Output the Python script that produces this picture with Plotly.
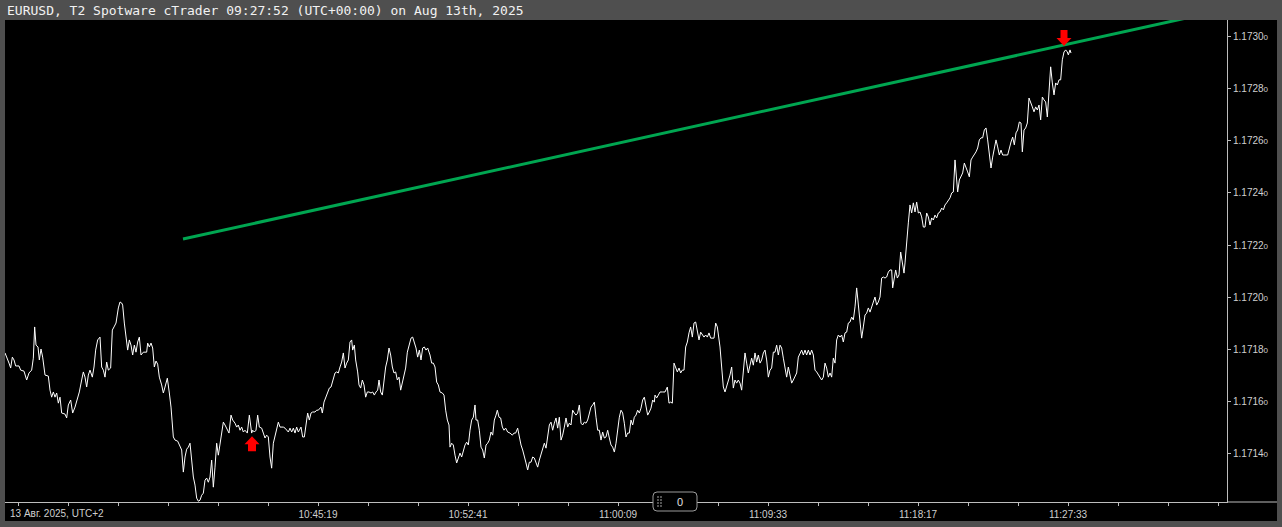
import plotly.graph_objects as go

# ---------------- DATA ----------------
# tick index (x) and bid price (y) of the EURUSD tick chart
tick_idx = [
    0, 5, 12, 17, 22, 27, 32, 42, 47, 57, 65, 72, 80, 85, 89, 93, 99, 103, 108, 113,
    120, 130, 135, 140, 145, 150, 155, 160, 165, 170, 180, 185, 190, 197, 203, 210, 217, 223, 230, 235,
    240, 245, 250, 255, 262, 267, 272, 278, 285, 290, 295, 300, 305, 310, 317, 322, 327, 333, 340, 345,
    350, 353, 358, 363, 368, 373, 378, 383, 388, 393, 398, 403, 408, 415, 425, 428, 433, 438, 443, 448,
    453, 458, 463, 470, 475, 480, 487, 493, 498, 505, 510, 518, 525, 530, 535, 540, 545, 550, 555, 560,
    565, 570, 575, 580, 585, 590, 595, 600, 605, 610, 615, 620, 625, 630, 635,
    640, 645, 650, 655, 660, 667, 672, 678, 683, 690, 695, 700, 705, 710, 715, 720, 727, 733, 737, 740,
    743, 748, 753, 758, 763, 770, 775, 780, 785, 790, 795, 800, 805, 810, 815, 820, 825, 835, 840, 845,
    850, 855, 860, 865, 870, 875, 880, 888, 893, 898, 903, 908, 913, 918, 923, 930, 935, 940, 948, 952,
    957, 962, 968, 973, 978, 985, 990, 995, 1000, 1005, 1010, 1015, 1020, 1025, 1030, 1035, 1040, 1043, 1048, 1052,
    1058, 1062, 1067, 1072, 1077, 1082, 1087, 1092, 1098, 1103, 1108, 1113, 1118, 1122, 1127, 1132, 1137, 1142, 1147, 1152,
    1157, 1162, 1167, 1172, 1177, 1182, 1187, 1192, 1197, 1202, 1207, 1212, 1218, 1223, 1228, 1233, 1238, 1243, 1248, 1253,
    1258, 1263, 1268, 1275, 1280, 1285,
    1290, 1295, 1300, 1305, 1312, 1317, 1322, 1327, 1332, 1335, 1340, 1345, 1350, 1355, 1360, 1365, 1370, 1375, 1380, 1385,
    1390, 1395, 1400, 1405, 1410, 1413, 1418, 1423, 1428, 1433, 1438, 1443, 1448, 1453, 1458, 1463, 1468, 1473, 1477, 1482,
    1487, 1492, 1497, 1502, 1508, 1515, 1522, 1527, 1532, 1538, 1543, 1548, 1553, 1558, 1563, 1568, 1573, 1578, 1583, 1588,
    1593, 1598, 1603, 1608, 1613, 1618, 1623, 1628, 1633, 1638, 1643, 1648, 1653, 1658, 1663, 1668, 1673, 1678, 1683, 1688,
    1693, 1698, 1703, 1708, 1713, 1718, 1723, 1728, 1733, 1738, 1743, 1748, 1753, 1758, 1763, 1768, 1773, 1778, 1783, 1788,
    1793, 1798, 1803, 1808, 1813, 1818, 1823, 1828, 1833, 1838, 1843, 1848, 1853, 1858, 1863, 1868, 1873, 1878, 1883, 1888,
    1893, 1898, 1903, 1908, 1913, 1918, 1923, 1928, 1933, 1938, 1943, 1948,
    1950, 1955, 1960, 1965, 1972, 1980, 1987, 1992, 1997, 2002, 2007, 2012, 2017, 2022, 2027, 2032, 2037, 2042, 2047, 2052,
    2057, 2062, 2067, 2072, 2077, 2082, 2087, 2092, 2097, 2102, 2107, 2112, 2117, 2127, 2132, 2137, 2140, 2145, 2150, 2155,
    2160, 2165, 2170, 2175, 2180, 2185, 2190, 2195, 2200, 2205, 2210, 2215, 2220, 2225, 2230, 2235, 2240, 2245, 2250, 2255,
    2260, 2265, 2270, 2275, 2280, 2285, 2290, 2295, 2300, 2305, 2310, 2315, 2320, 2325, 2330, 2335, 2340, 2345, 2350, 2355,
    2360, 2365, 2370, 2375, 2380, 2385, 2390, 2395, 2400, 2405, 2410, 2415, 2420, 2425, 2430, 2435, 2440, 2445, 2450, 2455,
    2460, 2465, 2470, 2475, 2480, 2485, 2490, 2495, 2500, 2505, 2510, 2515, 2520, 2525, 2530, 2535, 2540, 2545, 2550, 2555,
    2560, 2565, 2570, 2575, 2580, 2585, 2590, 2595, 2600, 2605,
    2610, 2615, 2620, 2625, 2630, 2635, 2640, 2645, 2650, 2655, 2660, 2663, 2668, 2672, 2677, 2682, 2687, 2692, 2697, 2700,
    2705, 2710, 2715, 2720, 2725, 2730, 2735, 2740, 2745, 2750, 2755, 2760, 2765, 2770, 2775, 2780, 2785, 2790, 2795, 2800,
    2805, 2810, 2815, 2820, 2825, 2830, 2835, 2840, 2845, 2850, 2853, 2858, 2863, 2868, 2873, 2878, 2883, 2888, 2893, 2898,
    2903, 2908, 2913, 2918, 2923, 2928, 2933, 2938, 2943, 2948, 2953, 2958, 2963, 2968, 2973, 2978, 2983, 2988, 2993, 3008,
    3013, 3018, 3023, 3028, 3033, 3038, 3043, 3048, 3052, 3057, 3062, 3067, 3072, 3077, 3082, 3087, 3092, 3097, 3102, 3107,
    3112, 3117, 3122, 3127, 3132, 3137, 3142, 3147, 3152, 3157, 3162, 3167, 3172, 3177, 3182, 3187, 3190, 3195, 3198,
]

price = [
    1.171785, 1.171765, 1.171746, 1.171727, 1.171769, 1.171758, 1.171735, 1.171735, 1.171719, 1.171715,
    1.171681, 1.171708, 1.171719, 1.171765, 1.171885, 1.171815, 1.171808, 1.171758, 1.171800, 1.171769,
    1.171700, 1.171696, 1.171642, 1.171615, 1.171635, 1.171615, 1.171631, 1.171592, 1.171615, 1.171554,
    1.171550, 1.171535, 1.171585, 1.171604, 1.171554, 1.171577, 1.171604, 1.171635, 1.171681, 1.171712,
    1.171692, 1.171654, 1.171700, 1.171719, 1.171692, 1.171731, 1.171796, 1.171835, 1.171846, 1.171731,
    1.171719, 1.171692, 1.171750, 1.171719, 1.171727, 1.171873, 1.171885, 1.171900, 1.171958, 1.171981,
    1.171977, 1.171969, 1.171900, 1.171835, 1.171796, 1.171835, 1.171815, 1.171777, 1.171815, 1.171788,
    1.171827, 1.171846, 1.171777, 1.171788, 1.171788, 1.171823, 1.171808, 1.171823, 1.171804, 1.171731,
    1.171754, 1.171742, 1.171692, 1.171662, 1.171631, 1.171654, 1.171688, 1.171631, 1.171577, 1.171462,
    1.171450, 1.171446, 1.171423, 1.171412, 1.171327, 1.171385, 1.171415, 1.171423, 1.171438, 1.171362,
    1.171308, 1.171277, 1.171227, 1.171215, 1.171219, 1.171238, 1.171246, 1.171296, 1.171304, 1.171288,
    1.171308, 1.171373, 1.171269, 1.171346, 1.171438,
    1.171392, 1.171438, 1.171488, 1.171519, 1.171508, 1.171488, 1.171477, 1.171546, 1.171527, 1.171515,
    1.171500, 1.171508, 1.171488, 1.171500, 1.171481, 1.171488, 1.171477, 1.171546, 1.171488, 1.171477,
    1.171488, 1.171481, 1.171488, 1.171546, 1.171500, 1.171496, 1.171477, 1.171458, 1.171469, 1.171462,
    1.171385, 1.171342, 1.171438, 1.171462, 1.171488, 1.171519, 1.171500, 1.171500, 1.171496, 1.171488,
    1.171481, 1.171496, 1.171481, 1.171496, 1.171477, 1.171500, 1.171481, 1.171500, 1.171462, 1.171462,
    1.171519, 1.171554, 1.171527, 1.171554, 1.171558, 1.171558, 1.171565, 1.171565, 1.171577, 1.171554,
    1.171596, 1.171612, 1.171635, 1.171650, 1.171654, 1.171681, 1.171708, 1.171712, 1.171708, 1.171731,
    1.171750, 1.171785, 1.171727, 1.171746, 1.171758, 1.171827, 1.171835, 1.171796, 1.171815, 1.171758,
    1.171712, 1.171662, 1.171650, 1.171681, 1.171662, 1.171615, 1.171635, 1.171635, 1.171631, 1.171635,
    1.171623, 1.171635, 1.171642, 1.171681, 1.171635, 1.171623, 1.171673, 1.171731, 1.171758, 1.171804,
    1.171777, 1.171731, 1.171708, 1.171712, 1.171681, 1.171692, 1.171642, 1.171673, 1.171692, 1.171727,
    1.171788, 1.171815, 1.171842, 1.171846, 1.171823, 1.171804, 1.171769, 1.171796, 1.171758, 1.171804,
    1.171808, 1.171796, 1.171804, 1.171777, 1.171746, 1.171746,
    1.171731, 1.171673, 1.171662, 1.171635, 1.171631, 1.171623, 1.171565, 1.171527, 1.171508, 1.171423,
    1.171438, 1.171431, 1.171392, 1.171362, 1.171381, 1.171400, 1.171385, 1.171412, 1.171431, 1.171442,
    1.171431, 1.171488, 1.171527, 1.171538, 1.171585, 1.171527, 1.171527, 1.171488, 1.171423, 1.171412,
    1.171381, 1.171431, 1.171438, 1.171450, 1.171481, 1.171469, 1.171527, 1.171546, 1.171565, 1.171538,
    1.171535, 1.171500, 1.171488, 1.171496, 1.171481, 1.171477, 1.171469, 1.171477, 1.171477, 1.171496,
    1.171462, 1.171431, 1.171412, 1.171381, 1.171362, 1.171335, 1.171365, 1.171365, 1.171385, 1.171381,
    1.171362, 1.171346, 1.171373, 1.171392, 1.171412, 1.171438, 1.171419, 1.171462, 1.171508, 1.171519,
    1.171488, 1.171515, 1.171535, 1.171496, 1.171538, 1.171450, 1.171469, 1.171500, 1.171535, 1.171500,
    1.171515, 1.171508, 1.171565, 1.171554, 1.171546, 1.171554, 1.171585, 1.171515, 1.171508, 1.171519,
    1.171515, 1.171527, 1.171558, 1.171577, 1.171585, 1.171596, 1.171538, 1.171488, 1.171488, 1.171450,
    1.171481, 1.171458, 1.171462, 1.171488, 1.171458, 1.171431, 1.171423, 1.171404, 1.171438, 1.171500,
    1.171538, 1.171565, 1.171554, 1.171515, 1.171462, 1.171477, 1.171477, 1.171527, 1.171508, 1.171538,
    1.171546, 1.171565, 1.171554, 1.171573, 1.171604, 1.171615, 1.171577, 1.171546, 1.171558, 1.171573,
    1.171604, 1.171596,
    1.171623, 1.171612, 1.171623, 1.171635, 1.171635, 1.171635, 1.171654, 1.171592, 1.171596, 1.171592,
    1.171746, 1.171731, 1.171712, 1.171727, 1.171708, 1.171719, 1.171719, 1.171808, 1.171827, 1.171862,
    1.171885, 1.171846, 1.171900, 1.171904, 1.171865, 1.171835, 1.171865, 1.171854, 1.171846, 1.171854,
    1.171846, 1.171862, 1.171842, 1.171842, 1.171900, 1.171885, 1.171862, 1.171808, 1.171731, 1.171654,
    1.171635, 1.171654, 1.171673, 1.171700, 1.171731, 1.171650, 1.171681, 1.171669, 1.171681, 1.171669,
    1.171642, 1.171727, 1.171785, 1.171746, 1.171708, 1.171738, 1.171765, 1.171738, 1.171785, 1.171750,
    1.171777, 1.171746, 1.171758, 1.171785, 1.171796, 1.171758, 1.171692, 1.171719, 1.171727, 1.171788,
    1.171788, 1.171815, 1.171777, 1.171815, 1.171804, 1.171765, 1.171727, 1.171692, 1.171731, 1.171692,
    1.171669, 1.171681, 1.171692, 1.171708, 1.171769, 1.171785, 1.171796, 1.171777, 1.171796, 1.171777,
    1.171796, 1.171777, 1.171796, 1.171777, 1.171719, 1.171712, 1.171700, 1.171692, 1.171681, 1.171692,
    1.171746, 1.171727, 1.171692, 1.171708, 1.171692, 1.171765, 1.171746, 1.171835, 1.171854, 1.171846,
    1.171854, 1.171827, 1.171862, 1.171865, 1.171900, 1.171904, 1.171923, 1.171912, 1.171962, 1.172035,
    1.171962, 1.171912, 1.171842, 1.171885, 1.171931, 1.171938, 1.171958, 1.171942, 1.171962, 1.171981,
    1.172000, 1.171969, 1.171981, 1.172000, 1.172073, 1.172077, 1.172073, 1.172077, 1.172096, 1.172104,
    1.172104, 1.172035, 1.172077, 1.172104, 1.172073, 1.172085, 1.172173, 1.172131, 1.172092, 1.172131,
    1.172227, 1.172285, 1.172354, 1.172323, 1.172362, 1.172327, 1.172365, 1.172323, 1.172327, 1.172308,
    1.172269, 1.172269, 1.172323, 1.172308, 1.172277, 1.172304, 1.172296, 1.172315, 1.172304, 1.172323,
    1.172327, 1.172342, 1.172335, 1.172354, 1.172362, 1.172373, 1.172381, 1.172400, 1.172404, 1.172527,
    1.172488, 1.172404, 1.172450, 1.172462, 1.172477, 1.172515, 1.172500, 1.172481, 1.172462, 1.172527,
    1.172538, 1.172546, 1.172558, 1.172573, 1.172604, 1.172612, 1.172612, 1.172642, 1.172650, 1.172604,
    1.172538, 1.172496, 1.172538, 1.172573, 1.172604, 1.172577, 1.172546, 1.172565, 1.172546, 1.172546,
    1.172577, 1.172596, 1.172615, 1.172585, 1.172631, 1.172642, 1.172673, 1.172669, 1.172558, 1.172642,
    1.172650, 1.172669, 1.172765, 1.172750, 1.172731, 1.172712, 1.172731, 1.172719, 1.172738, 1.172681,
    1.172769, 1.172758, 1.172750, 1.172692, 1.172796, 1.172885, 1.172823, 1.172777, 1.172823, 1.172815,
    1.172835, 1.172835, 1.172912, 1.172942, 1.172950, 1.172942, 1.172931, 1.172950, 1.172938,
]
assert len(tick_idx) == len(price), (len(tick_idx), len(price))

# trend line (two anchor points)
trend_idx = [534, 3666]
trend_price = [1.172223, 1.173107]

# signal arrows
signal_idx = [741, 3177]
signal_price = [1.171465, 1.172965]
signal_dir = ["up", "down"]

# axes
y_tick_vals = [1.17140, 1.17160, 1.17180, 1.17200, 1.17220, 1.17240, 1.17260, 1.17280, 1.17300]
x_label_idx = [939, 1389, 1839, 2289, 2739, 3189]
x_labels = ["10:45:19", "10:52:41", "11:00:09", "11:09:33", "11:18:17", "11:27:33"]
x_minor_idx = [39 + 150 * k for k in range(25)]
date_label = "13 Авг. 2025, UTC+2"
title_text = "EURUSD, T2 Spotware cTrader 09:27:52 (UTC+00:00) on Aug 13th, 2025"
counter_text = "0"

# ---------------- LAYOUT CONSTANTS ----------------
W, H = 1282, 527
L, R, T, B = 5, 1227, 20, 502          # plot area in pixels
X_RANGE = [0, (R - L) * 3]
Y_RANGE = [1.171212, 1.173065]
FRAME = "#4f4f4f"
AXIS = "#bdbdbd"
TXT = "#cfcfcf"


def fx(px):
    return (px - L) / (R - L)


def fy(py):
    return (B - py) / (B - T)


fig = go.Figure()
fig.add_trace(go.Scatter(x=tick_idx, y=price, mode="lines",
                         line=dict(color="#ffffff", width=1), hoverinfo="skip"))
fig.add_trace(go.Scatter(x=trend_idx, y=trend_price, mode="lines",
                         line=dict(color="#00a651", width=3), hoverinfo="skip"))

shapes = []
# red signal arrows, anchored at data points, sized in pixels
up_path = "M0,0 L7.5,-8 L4,-8 L4,-15 L-4,-15 L-4,-8 L-7.5,-8 Z"
down_path = "M0,0 L7.5,8 L3.5,8 L3.5,16 L-3.5,16 L-3.5,8 L-7.5,8 Z"
for xi, yi, d in zip(signal_idx, signal_price, signal_dir):
    shapes.append(dict(type="path", xref="x", yref="y", xsizemode="pixel", ysizemode="pixel",
                       xanchor=xi, yanchor=yi, path=up_path if d == "up" else down_path,
                       fillcolor="#ff0000", line=dict(width=0), layer="above"))

# x-axis line extension under the price scale
shapes.append(dict(type="line", xref="paper", yref="paper", x0=fx(R), x1=fx(1277), y0=0, y1=0,
                   line=dict(color=AXIS, width=1)))

# window frame
for (x0, y0, x1, y1) in [(0, 0, W, 20), (0, 0, 5, H), (1277, 0, W, H), (0, 521, W, H)]:
    shapes.append(dict(type="rect", xref="paper", yref="paper", x0=fx(x0), x1=fx(x1),
                       y0=fy(y1), y1=fy(y0), fillcolor=FRAME, line=dict(width=0), layer="above"))

# counter badge (rounded rectangle)
bx0, bx1, by0, by1, r = 653, 697, 492, 511, 4
pts = (f"M{fx(bx0 + r)},{fy(by0)} L{fx(bx1 - r)},{fy(by0)} Q{fx(bx1)},{fy(by0)} {fx(bx1)},{fy(by0 + r)} "
       f"L{fx(bx1)},{fy(by1 - r)} Q{fx(bx1)},{fy(by1)} {fx(bx1 - r)},{fy(by1)} "
       f"L{fx(bx0 + r)},{fy(by1)} Q{fx(bx0)},{fy(by1)} {fx(bx0)},{fy(by1 - r)} "
       f"L{fx(bx0)},{fy(by0 + r)} Q{fx(bx0)},{fy(by0)} {fx(bx0 + r)},{fy(by0)} Z")
shapes.append(dict(type="path", xref="paper", yref="paper", path=pts, fillcolor="#000000",
                   line=dict(color="#9a9a9a", width=1), layer="above"))
for cx in (658, 661):
    for cy in (497, 500, 503, 506):
        shapes.append(dict(type="rect", xref="paper", yref="paper", x0=fx(cx - 0.8), x1=fx(cx + 0.8),
                           y0=fy(cy + 0.8), y1=fy(cy - 0.8), fillcolor="#8a8a8a",
                           line=dict(width=0), layer="above"))

annotations = [
    dict(text=title_text, xref="paper", yref="paper", x=fx(5), y=fy(10), xanchor="left", yanchor="middle",
         showarrow=False, font=dict(family="DejaVu Sans Mono", size=13, color="#f2f2f2")),
    dict(text=date_label, xref="paper", yref="paper", x=fx(8), y=fy(513), xanchor="left", yanchor="middle",
         showarrow=False, font=dict(family="Liberation Sans", size=10, color=TXT)),
    dict(text=counter_text, xref="paper", yref="paper", x=fx(680), y=fy(501.5), xanchor="center",
         yanchor="middle", showarrow=False, font=dict(family="Liberation Sans", size=11, color="#e0e0e0")),
]

x_tick_text = []
for v in x_minor_idx:
    x_tick_text.append(x_labels[x_label_idx.index(v)] if v in x_label_idx else "")

y_tick_text = []
for v in y_tick_vals:
    s = f"{v:.5f}"
    y_tick_text.append(s[:-1] + f"<span style='font-size:8px'>{s[-1]}</span>")

fig.update_layout(
    width=W, height=H, autosize=False,
    margin=dict(l=L, r=W - R, t=T, b=H - B, pad=0),
    paper_bgcolor="#000000", plot_bgcolor="#000000",
    showlegend=False, hovermode=False,
    shapes=shapes, annotations=annotations,
    xaxis=dict(range=X_RANGE, showgrid=False, zeroline=False, showline=True, linecolor=AXIS, linewidth=1,
               tickmode="array", tickvals=x_minor_idx, ticktext=x_tick_text, ticks="outside", ticklen=3,
               tickcolor=AXIS, tickfont=dict(family="Liberation Sans", size=10, color=TXT), fixedrange=True),
    yaxis=dict(range=Y_RANGE, side="right", showgrid=False, zeroline=False, showline=True, linecolor=AXIS,
               linewidth=1, tickmode="array", tickvals=y_tick_vals, ticktext=y_tick_text, ticks="outside",
               ticklen=3, tickcolor=AXIS, tickfont=dict(family="Liberation Sans", size=10, color=TXT),
               fixedrange=True),
)

fig.write_html(
    "out.html",
    config={"displayModeBar": False},
    post_script="document.body.style.margin='0';document.body.style.overflow='hidden';",
)
